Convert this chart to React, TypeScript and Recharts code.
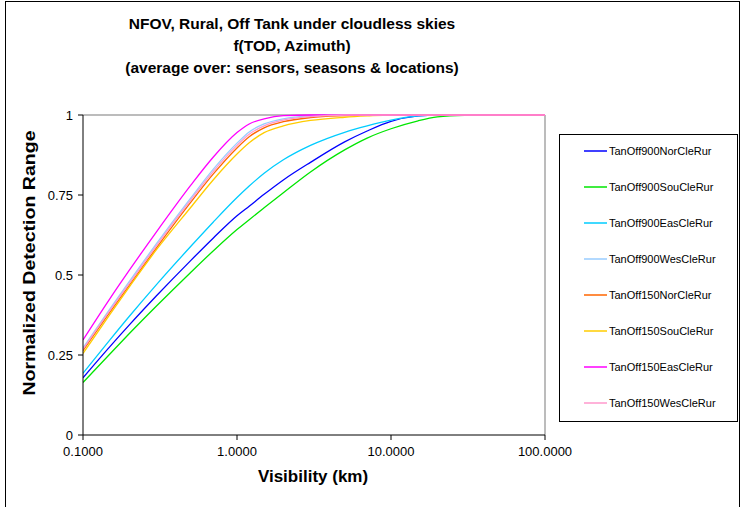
import React from "react";
import { Line, LineChart, ReferenceLine, XAxis, YAxis } from "recharts";

// visibility sample points (km), log-spaced
const visibility = [0.1, 0.15, 0.2, 0.3, 0.5, 0.7, 1, 1.2, 1.5, 2, 3, 5, 7, 10, 15, 20, 30, 50, 100];

const tanOff900Nor = [0.179, 0.277, 0.344, 0.435, 0.545, 0.615, 0.685, 0.715, 0.752, 0.797, 0.852, 0.916, 0.95, 0.98, 0.997, 1, 1, 1, 1];
const tanOff900Sou = [0.164, 0.254, 0.317, 0.403, 0.508, 0.575, 0.642, 0.673, 0.71, 0.757, 0.822, 0.891, 0.928, 0.957, 0.982, 0.994, 0.999, 1, 1];
const tanOff900Eas = [0.193, 0.298, 0.371, 0.47, 0.589, 0.665, 0.742, 0.778, 0.818, 0.86, 0.905, 0.946, 0.966, 0.984, 0.997, 1, 1, 1, 1];
const tanOff900Wes = [0.272, 0.395, 0.48, 0.598, 0.74, 0.83, 0.912, 0.947, 0.972, 0.988, 0.997, 1, 1, 1, 1, 1, 1, 1, 1];
const tanOff150Nor = [0.264, 0.385, 0.468, 0.585, 0.727, 0.815, 0.897, 0.932, 0.96, 0.979, 0.992, 0.998, 1, 1, 1, 1, 1, 1, 1];
const tanOff150Sou = [0.255, 0.378, 0.463, 0.579, 0.711, 0.797, 0.878, 0.913, 0.945, 0.966, 0.983, 0.993, 0.997, 1, 1, 1, 1, 1, 1];
const tanOff150Eas = [0.297, 0.427, 0.515, 0.635, 0.78, 0.868, 0.945, 0.972, 0.988, 0.998, 1, 1, 1, 1, 1, 1, 1, 1, 1];
const tanOff150Wes = [0.268, 0.39, 0.474, 0.592, 0.734, 0.823, 0.905, 0.94, 0.966, 0.984, 0.995, 1, 1, 1, 1, 1, 1, 1, 1];

const seriesNames = [
    "TanOff900NorCleRur",
    "TanOff900SouCleRur",
    "TanOff900EasCleRur",
    "TanOff900WesCleRur",
    "TanOff150NorCleRur",
    "TanOff150SouCleRur",
    "TanOff150EasCleRur",
    "TanOff150WesCleRur",
];
const seriesValues = [
    tanOff900Nor,
    tanOff900Sou,
    tanOff900Eas,
    tanOff900Wes,
    tanOff150Nor,
    tanOff150Sou,
    tanOff150Eas,
    tanOff150Wes,
];
const seriesColors = ["#0000ff", "#00e600", "#00ccff", "#99ccff", "#ff6600", "#ffcc00", "#ff00ff", "#ff99cc"];

const xTicks = [0.1, 1, 10, 100];
const yTicks = [0, 0.25, 0.5, 0.75, 1];

const titleLines = [
    "NFOV, Rural, Off Tank under cloudless skies",
    "f(TOD, Azimuth)",
    "(average over: sensors, seasons & locations)",
];

const FONT = "'Liberation Sans', Arial, sans-serif";

const data = visibility.map((v, i) => {
    const row: Record<string, number> = { v };
    seriesNames.forEach((name, s) => {
        row[name] = seriesValues[s][i];
    });
    return row;
});

function LegendBox() {
    return (
        <div
            style={{
                position: "absolute",
                left: 559,
                top: 134,
                width: 179,
                height: 288,
                boxSizing: "border-box",
                border: "1px solid #000",
                background: "#fff",
            }}
        >
            {seriesNames.map((name, i) => (
                <div
                    key={name}
                    style={{
                        position: "absolute",
                        left: 24,
                        top: 9 + i * 36,
                        height: 14,
                        display: "flex",
                        alignItems: "center",
                        fontFamily: FONT,
                        fontSize: 11,
                        color: "#000",
                        whiteSpace: "nowrap",
                    }}
                >
                    <svg width={25} height={14} style={{ display: "block" }}>
                        <line x1={0} x2={23} y1={7} y2={7} stroke={seriesColors[i]} strokeWidth={1.5} />
                    </svg>
                    {name}
                </div>
            ))}
        </div>
    );
}

export default function App() {
    return (
        <div
            style={{
                position: "fixed",
                left: 0,
                top: 0,
                width: 741,
                height: 507,
                overflow: "hidden",
                background: "#fff",
            }}
        >
            {/* chart frame, open at the bottom */}
            <div
                style={{
                    position: "absolute",
                    left: 5,
                    top: 1,
                    width: 733,
                    height: 530,
                    border: "1px solid #000",
                }}
            />
            <div
                style={{
                    position: "absolute",
                    left: 92,
                    width: 400,
                    top: 13,
                    textAlign: "center",
                    fontFamily: FONT,
                    fontWeight: "bold",
                    fontSize: 15.5,
                    lineHeight: "22px",
                    color: "#000",
                }}
            >
                {titleLines.map((t) => (
                    <div key={t}>{t}</div>
                ))}
            </div>
            <div style={{ position: "absolute", left: 0, top: 0 }}>
                <LineChart
                    width={741}
                    height={507}
                    data={data}
                    margin={{ top: 115, right: 196, bottom: 42, left: 43 }}
                >
                    <XAxis
                        dataKey="v"
                        type="number"
                        scale="log"
                        domain={[0.1, 100]}
                        ticks={xTicks}
                        allowDataOverflow
                        height={30}
                        tickSize={5}
                        tickMargin={7}
                        tickFormatter={(v: number) => v.toFixed(4)}
                        stroke="#000"
                        tick={{ fill: "#000", fontSize: 13, fontFamily: FONT }}
                    />
                    <YAxis
                        type="number"
                        domain={[0, 1]}
                        ticks={yTicks}
                        width={40}
                        tickSize={5}
                        tickMargin={5}
                        stroke="#000"
                        tick={{ fill: "#000", fontSize: 13, fontFamily: FONT }}
                    />
                    <ReferenceLine y={1} stroke="#a6a6a6" strokeWidth={1.5} />
                    <ReferenceLine x={100} stroke="#a6a6a6" strokeWidth={1.5} />
                    {seriesNames.map((name, i) => (
                        <Line
                            key={name}
                            type="monotone"
                            dataKey={name}
                            stroke={seriesColors[i]}
                            strokeWidth={1.3}
                            dot={false}
                            isAnimationActive={false}
                        />
                    ))}
                </LineChart>
            </div>
            <div
                style={{
                    position: "absolute",
                    left: 213,
                    width: 200,
                    top: 467,
                    textAlign: "center",
                    fontFamily: FONT,
                    fontWeight: "bold",
                    fontSize: 17,
                    color: "#000",
                }}
            >
                Visibility (km)
            </div>
            <div
                style={{
                    position: "absolute",
                    left: 30,
                    top: 263,
                    transform: "translate(-50%, -50%) rotate(-90deg) scaleX(1.15)",
                    fontFamily: FONT,
                    fontWeight: "bold",
                    fontSize: 17,
                    color: "#000",
                    whiteSpace: "nowrap",
                }}
            >
                Normalized Detection Range
            </div>
            <LegendBox />
        </div>
    );
}
